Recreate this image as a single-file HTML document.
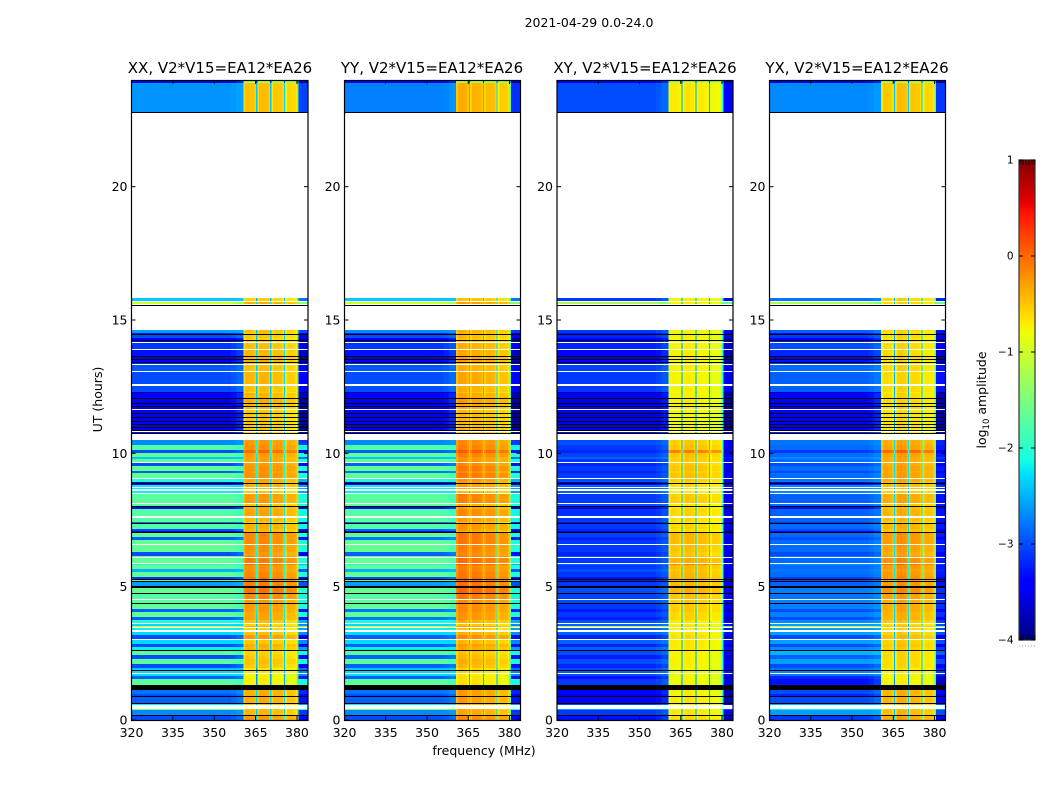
<!DOCTYPE html>
<html lang="en">
<head>
<meta charset="utf-8">
<title>2021-04-29 0.0-24.0</title>
<style>
html,body{margin:0;padding:0;background:#fff;}
svg{display:block;}
text{font-family:"DejaVu Sans","Liberation Sans",sans-serif;fill:#000;}
.title{font-size:15px;text-anchor:middle;}
.tick{font-size:12.5px;}
.lab{font-size:12.5px;text-anchor:middle;}
</style>
</head>
<body>
<svg id="fig" xmlns="http://www.w3.org/2000/svg" width="1050" height="800" viewBox="0 0 1050 800">
  <rect x="0" y="0" width="1050" height="800" fill="#fff"/>
  <text class="lab" x="589" y="27">2021-04-29 0.0-24.0</text>
  <g id="panels"></g>
  <text class="title" x="220" y="73">XX, V2*V15=EA12*EA26</text>
  <text class="title" x="432" y="73">YY, V2*V15=EA12*EA26</text>
  <text class="title" x="645" y="73">XY, V2*V15=EA12*EA26</text>
  <text class="title" x="857" y="73">YX, V2*V15=EA12*EA26</text>
  <text class="lab" x="484" y="755">frequency (MHz)</text>
  <text class="lab" transform="translate(102,399.5) rotate(-90)">UT (hours)</text>
  <g id="cbar"></g>
  <text class="lab" transform="translate(986,400) rotate(-90)">log<tspan font-size="8.5" dy="3">10</tspan><tspan dy="-3"> amplitude</tspan></text>
</svg>
<script>
const N = null;   // no data: flagged integration, left white
const K = -9;     // below floor: drawn black

// Integration blocks from the top of the plot, counted in 0.0375 h bins
const rowBins = [
3,29,1,185,3,1,2,1,1,24,
3,1,1,3,2,1,1,1,6,1,
6,1,2,1,2,1,1,1,6,1,
12,2,6,1,5,1,4,1,2,1,
2,1,3,1,3,1,3,1,2,1,
2,1,2,1,1,1,1,6,5,5,
3,4,2,3,1,3,5,2,5,1,
3,1,1,1,2,1,1,2,2,1,
9,1,2,1,2,7,2,4,1,1,
5,2,1,1,4,3,4,1,7,4,
1,1,5,1,1,4,3,5,2,1,
1,1,4,2,5,1,5,1,3,1,
5,3,5,3,3,1,2,1,1,2,
2,3,4,1,4,3,3,1,4,4,
5,4,2,1,2,1,2,3,6,5,
4,2,1,6,1,1,4,1,5,1,
4];

// log10 amplitude, 320-360 MHz, per block
const xxLow = [
-3.4,-2.65,K,N,-2.4,N,-1.0,N,K,N,
-2.6,-3.2,K,-3.0,-3.5,K,-3.4,N,-3.1,N,
-3.3,K,-3.5,K,-3.4,K,-3.2,N,-2.95,N,
-3.0,N,-3.0,-3.8,-3.4,K,-3.4,K,-3.5,K,
-3.5,N,-3.4,K,-3.5,K,-3.4,K,-3.4,K,
-3.5,K,-3.4,K,N,-3.3,K,N,-2.7,-1.75,
-3.0,-1.65,-2.4,-1.65,N,-3.0,-1.65,-2.9,-1.65,N,
-2.1,-3.4,K,-3.4,-2.2,N,-2.2,N,-2.2,N,
-1.7,N,-1.65,K,-3.3,-1.75,N,-1.75,-2.8,K,
-1.75,-3.0,-3.6,K,-1.65,-2.9,-1.65,N,-1.65,-3.0,
-1.65,N,-1.65,N,-2.1,-1.65,-2.5,-1.65,-3.1,K,
-1.75,K,-2.6,K,-1.65,K,-1.75,N,-1.7,K,
-1.65,-2.9,-1.65,-2.9,-2.1,N,-2.3,-0.9,N,-2.2,
N,-2.3,-3.0,N,-2.3,-3.0,-2.2,K,-1.7,-3.0,
-1.7,-3.0,-2.4,K,-2.3,N,-2.3,-2.9,-1.7,K,
-2.8,-3.0,K,-2.9,K,-2.2,N,-1.5,-2.7,K,
-3.0];
const yyLow = [
-3.4,-2.75,K,N,-2.4,N,-1.0,N,K,N,
-2.7,-3.2,K,-3.0,-3.5,K,-3.4,N,-3.1,N,
-3.3,K,-3.5,K,-3.4,K,-3.2,N,-2.95,N,
-3.0,N,-3.0,-3.8,-3.4,K,-3.4,K,-3.5,K,
-3.5,N,-3.4,K,-3.5,K,-3.4,K,-3.4,K,
-3.5,K,-3.4,K,N,-3.3,K,N,-2.7,-1.75,
-2.9,-1.65,-2.4,-1.65,N,-2.9,-1.65,-2.8,-1.65,N,
-2.1,-3.4,K,-3.4,-2.2,N,-2.2,N,-2.2,N,
-1.7,N,-1.65,K,-3.3,-1.75,N,-1.75,-2.8,K,
-1.75,-2.9,-3.6,K,-1.65,-2.8,-1.65,N,-1.65,-2.9,
-1.65,N,-1.65,N,-2.1,-1.65,-2.5,-1.65,-3.0,K,
-1.75,K,-2.6,K,-1.65,K,-1.75,N,-1.7,K,
-1.65,-2.8,-1.65,-2.8,-2.1,N,-2.3,-0.9,N,-2.2,
N,-2.3,-2.9,N,-2.3,-2.9,-2.2,K,-1.7,-2.9,
-1.7,-2.9,-2.4,K,-2.3,N,-2.3,-2.9,-1.7,K,
-2.8,-3.0,K,-2.9,K,-2.2,N,-1.5,-2.7,K,
-3.0];
const xyLow = [
-3.4,-3.0,K,N,-3.1,N,-1.2,N,K,N,
-3.1,-3.3,K,-3.2,-3.5,K,-3.4,N,-3.2,N,
-3.4,K,-3.5,K,-3.4,K,-3.3,N,-3.05,N,
-3.1,N,-3.1,-3.8,-3.5,K,-3.5,K,-3.55,K,
-3.5,N,-3.5,K,-3.55,K,-3.5,K,-3.5,K,
-3.55,K,-3.5,K,N,-3.3,K,N,-3.0,-3.1,
-3.2,-3.05,-2.9,-3.1,N,-3.2,-3.1,-3.2,-3.1,N,
-3.0,-3.4,K,-3.4,-2.9,N,-2.9,N,-2.9,N,
-3.1,N,-3.0,K,-3.4,-3.15,N,-3.1,-3.3,K,
-3.1,-3.2,-3.6,K,-3.05,-3.2,-3.1,N,-3.1,-3.2,
-3.0,N,-3.1,N,-2.9,-3.1,-3.0,-3.1,-3.3,K,
-3.2,K,-3.1,K,-3.0,K,-3.05,N,-3.0,K,
-3.1,-3.25,-3.1,-3.25,-3.0,N,-2.9,-1.0,N,-2.9,
N,-2.9,-3.2,N,-2.9,-3.2,-2.9,K,-3.0,-3.25,
-3.0,-3.2,-3.0,K,-2.9,N,-3.0,-3.3,-3.1,K,
-3.4,-3.5,K,-3.4,K,-3.0,N,-2.6,-3.1,K,
-3.3];
const yxLow = [
-3.4,-2.7,K,N,-2.8,N,-1.2,N,K,N,
-2.9,-3.3,K,-3.1,-3.4,K,-3.3,N,-3.0,N,
-3.2,K,-3.4,K,-3.3,K,-3.1,N,-2.85,N,
-2.9,N,-2.9,-3.7,-3.4,K,-3.4,K,-3.45,K,
-3.4,N,-3.4,K,-3.45,K,-3.4,K,-3.4,K,
-3.45,K,-3.4,K,N,-3.2,K,N,-2.8,-2.85,
-3.1,-2.85,-2.7,-2.85,N,-3.0,-2.85,-3.0,-2.85,N,
-2.8,-3.3,K,-3.3,-2.7,N,-2.7,N,-2.7,N,
-2.9,N,-2.85,K,-3.3,-2.9,N,-2.9,-3.1,K,
-2.85,-3.0,-3.5,K,-2.85,-3.0,-2.85,N,-2.85,-3.0,
-2.8,N,-2.85,N,-2.7,-2.85,-2.8,-2.85,-3.1,K,
-3.0,K,-2.9,K,-2.75,K,-2.8,N,-2.75,K,
-2.75,-3.0,-2.75,-3.0,-2.7,N,-2.6,-1.0,N,-2.6,
N,-2.6,-3.0,N,-2.6,-3.0,-2.7,K,-2.5,-2.9,
-2.6,-3.0,-2.8,K,-2.7,N,-2.8,-3.2,-3.3,K,
-3.0,-3.2,K,-3.0,K,-2.5,N,-2.2,-2.6,K,
-3.1];

// log10 amplitude, 360-380 MHz, per block
const xxHigh = [
-1.2,-.5,K,N,-.6,N,-.4,N,K,N,
-.5,-.55,K,-.55,-.6,K,-.6,N,-.5,N,
-.45,K,-.45,K,-.4,K,-.5,N,-.5,N,
-.45,N,-.5,-.6,-.45,K,-.4,K,-.45,K,
-.5,N,-.55,K,-.55,K,-.55,K,-.55,K,
-.55,K,-.55,K,N,-.6,K,N,-.3,-.25,
-.05,-.3,-.35,-.35,N,-.3,-.25,-.3,-.25,N,
-.35,-.4,K,-.4,-.4,N,-.5,N,-.55,N,
-.3,N,-.5,K,-.4,-.35,N,-.45,-.6,K,
-.4,-.45,-.5,K,-.2,-.2,-.2,N,-.25,-.3,
-.2,N,-.15,N,-.05,-.25,-.25,-.2,-.15,K,
-.15,K,-.15,K,-.1,K,-.2,N,-.3,K,
-.3,-.3,-.35,-.35,-.5,N,-.6,-.4,N,-.6,
N,-.5,-.3,N,-.55,-.4,-.45,K,-.6,-.55,
-.5,-.55,-.7,K,-.7,N,-.8,-.75,-.75,K,
-.4,-.4,K,-.4,K,-.5,N,-.5,-.45,K,
-.3];
const yyHigh = [
-1.2,-.45,K,N,-.55,N,-.35,N,K,N,
-.45,-.5,K,-.5,-.55,K,-.55,N,-.45,N,
-.4,K,-.4,K,-.35,K,-.45,N,-.45,N,
-.4,N,-.45,-.55,-.4,K,-.35,K,-.4,K,
-.45,N,-.5,K,-.5,K,-.5,K,-.5,K,
-.5,K,-.5,K,N,-.55,K,N,-.25,-.2,
.0,-.2,-.3,-.3,N,-.25,-.15,-.25,-.15,N,
-.3,-.35,K,-.35,-.35,N,-.45,N,-.5,N,
-.2,N,-.45,K,-.35,-.25,N,-.35,-.55,K,
-.3,-.35,-.45,K,-.15,-.15,-.15,N,-.2,-.25,
-.15,N,-.1,N,.0,-.2,-.2,-.15,-.1,K,
-.1,K,-.1,K,-.05,K,-.15,N,-.25,K,
-.25,-.25,-.3,-.3,-.45,N,-.55,-.35,N,-.55,
N,-.45,-.25,N,-.5,-.35,-.4,K,-.55,-.5,
-.45,-.5,-.65,K,-.65,N,-.75,-.7,-.7,K,
-.35,-.35,K,-.35,K,-.45,N,-.45,-.4,K,
-.25];
const xyHigh = [
-1.2,-.75,K,N,-.8,N,-.8,N,K,N,
-.8,-.85,K,-.8,-.85,K,-.85,N,-.8,N,
-.8,K,-.8,K,-.8,K,-.85,N,-.8,N,
-.8,N,-.8,-.9,-.8,K,-.8,K,-.8,K,
-.8,N,-.85,K,-.85,K,-.85,K,-.85,K,
-.85,K,-.85,K,N,-.9,K,N,-.6,-.55,
-.2,-.55,-.6,-.6,N,-.6,-.55,-.6,-.55,N,
-.6,-.7,K,-.7,-.7,N,-.75,N,-.8,N,
-.6,N,-.75,K,-.7,-.65,N,-.7,-.8,K,
-.65,-.7,-.75,K,-.5,-.5,-.5,N,-.55,-.6,
-.5,N,-.45,N,-.2,-.5,-.55,-.5,-.45,K,
-.5,K,-.5,K,-.45,K,-.55,N,-.6,K,
-.6,-.6,-.65,-.65,-.75,N,-.8,-.7,N,-.8,
N,-.75,-.7,N,-.75,-.75,-.75,K,-.8,-.8,
-.8,-.8,-.85,K,-.85,N,-.85,-.85,-.85,K,
-.8,-.8,K,-.75,K,-.8,N,-.8,-.75,K,
-.7];
const yxHigh = [
-1.2,-.6,K,N,-.7,N,-.7,N,K,N,
-.7,-.75,K,-.7,-.75,K,-.75,N,-.7,N,
-.7,K,-.7,K,-.7,K,-.75,N,-.7,N,
-.7,N,-.7,-.8,-.7,K,-.7,K,-.7,K,
-.7,N,-.75,K,-.75,K,-.75,K,-.75,K,
-.75,K,-.75,K,N,-.8,K,N,-.45,-.4,
-.1,-.4,-.45,-.45,N,-.45,-.4,-.45,-.4,N,
-.45,-.55,K,-.55,-.55,N,-.6,N,-.65,N,
-.45,N,-.6,K,-.55,-.5,N,-.55,-.65,K,
-.5,-.55,-.6,K,-.35,-.35,-.35,N,-.4,-.45,
-.35,N,-.3,N,-.1,-.35,-.4,-.35,-.3,K,
-.35,K,-.35,K,-.3,K,-.4,N,-.45,K,
-.45,-.45,-.5,-.5,-.6,N,-.7,-.55,N,-.7,
N,-.65,-.55,N,-.65,-.6,-.65,K,-.7,-.7,
-.7,-.7,-.8,K,-.8,N,-.85,-.85,-.85,K,
-.5,-.5,K,-.5,K,-.6,N,-.6,-.55,K,
-.45];

// Frequency channels (MHz)
const lowEdges = [320,350,356,358,360.6];
const lowLeak = [0,0,.07,.2];
const bandEdges = [360.6,361.2,363,364.6,365.2,365.7,366.3,368.4,369.8,370.3,370.7,371.3,373.4,374.8,375.3,375.7,376.3,378.2,379.4,380,380.5];
const bandGain = [-.12,.05,.02,-.08,-1.9,-.12,.06,.04,-.08,-1.9,-.12,.05,.03,-.08,-1.8,-.15,.02,.0,-.12,-1.2];
const tailEdges = [380.5,384];
const tailGain = [-.4];

// Per-panel level of the four sub-bands at 361-365, 366-370, 371-375, 376-380 MHz
const xxBandLevel = [0,0,-.05,-.1];
const yyBandLevel = [.05,0,-.05,-.1];
const xyBandLevel = [.02,.05,0,-.05];
const yxBandLevel = [.05,.1,.05,0];

// Axis ticks
const freqTicks = [320,335,350,365,380];
const hourTicks = [0,5,10,15,20];
const levelTicks = [1,0,-1,-2,-3,-4];

const panelLow = [xxLow,yyLow,xyLow,yxLow];
const panelHigh = [xxHigh,yyHigh,xyHigh,yxHigh];
const panelBand = [xxBandLevel,yyBandLevel,xyBandLevel,yxBandLevel];
const panelKeys = ['xx','yy','xy','yx'];

const SVGNS = 'http://www.w3.org/2000/svg';
const binHours = 0.0375;
const panelLeft = [131.5,344.5,557,769.5];
const panelWidth = [176.5,176,176,176];
const hourZero = 720, pxPerHour = 640/24;

function yOf(h){ return hourZero - h*pxPerHour; }
function xOf(p,f){ return panelLeft[p] + (f-320)*panelWidth[p]/64; }
function seg(t,pts){
  for(let i=1;i<pts.length;i++){
    if(t<=pts[i][0]){
      const a=pts[i-1],b=pts[i];
      return a[1]+(b[1]-a[1])*(t-a[0])/(b[0]-a[0]);
    }
  }
  return pts[pts.length-1][1];
}
function jet(v){
  if(v<=K) return '#000';
  const t=Math.max(0,Math.min(1,(v+4)/5));
  const r=seg(t,[[0,0],[.35,0],[.66,1],[.89,1],[1,.5]]);
  const g=seg(t,[[0,0],[.125,0],[.375,1],[.64,1],[.91,0],[1,0]]);
  const b=seg(t,[[0,.5],[.11,1],[.34,1],[.65,0],[1,0]]);
  return 'rgb('+Math.round(r*255)+','+Math.round(g*255)+','+Math.round(b*255)+')';
}
function shape(parent,tag,geo){
  const el=document.createElementNS(SVGNS,tag);
  for(const k in geo) el.setAttribute(k,geo[k]);
  parent.appendChild(el);
  return el;
}
function cell(g,p,f0,f1,yTop,yBot,v){
  const el=shape(g,'rect',{x:xOf(p,f0),y:yTop,width:xOf(p,f1)-xOf(p,f0),height:yBot-yTop,fill:jet(v),'shape-rendering':'crispEdges'});
  
  
}

const root=document.getElementById('panels');
panelKeys.forEach(function(key,p){
  const g=shape(root,'g',{});
  
  
  const low=panelLow[p], high=panelHigh[p], band=panelBand[p];
  let hour=24;
  rowBins.forEach(function(n,r){
    const hourEnd=hour-n*binHours;
    const yTop=yOf(hour), yBot=yOf(hourEnd);
    hour=hourEnd;
    const lv=low[r], hv=high[r];
    if(lv===N) return;
    if(lv===K){ cell(g,p,320,384,yTop,yBot,K); return; }
    lowLeak.forEach(function(w,c){
      cell(g,p,lowEdges[c],lowEdges[c+1],yTop,yBot,lv+(-2.3-lv)*w);
    });
    bandGain.forEach(function(d,c){
      cell(g,p,bandEdges[c],bandEdges[c+1],yTop,yBot,hv+d+band[Math.floor(c/5)]);
    });
    tailGain.forEach(function(d,c){
      cell(g,p,tailEdges[c],tailEdges[c+1],yTop,yBot,lv+d);
    });
  });
  const L=panelLeft[p], R=L+panelWidth[p], T=yOf(24), B=yOf(0);
  const frame=shape(g,'rect',{x:L,y:T+.5,width:panelWidth[p],height:B-T,fill:'none',stroke:'#000','stroke-width':1.2});
  
  
  freqTicks.forEach(function(f){
    const x=xOf(p,f);
    const t1=shape(g,'line',{x1:x,x2:x,y1:B,y2:B-4,stroke:'#000','stroke-width':1});
    
    
    const t2=shape(g,'line',{x1:x,x2:x,y1:T,y2:T+4,stroke:'#000','stroke-width':1});
    
    
    const tx=shape(g,'text',{x:x,y:B+17,'text-anchor':'middle','class':'tick'});
    
    
    tx.textContent=String(f);
  });
  hourTicks.forEach(function(h){
    const y=yOf(h);
    const t1=shape(g,'line',{x1:L,x2:L+4,y1:y,y2:y,stroke:'#000','stroke-width':1});
    
    
    const t2=shape(g,'line',{x1:R,x2:R-4,y1:y,y2:y,stroke:'#000','stroke-width':1});
    
    
    const tx=shape(g,'text',{x:L-4,y:y+4.5,'text-anchor':'end','class':'tick'});
    
    
    tx.textContent=String(h);
  });
});

// Colorbar
const cb=document.getElementById('cbar');
const cbL=1019, cbR=1035;
function yLevel(v){ return 640-(v+4)*96; }
for(let px=160;px<640;px+=2){
  const v=1-(px-160+1)/96;
  const el=shape(cb,'rect',{x:cbL,y:px,width:cbR-cbL,height:2,fill:jet(v),'shape-rendering':'crispEdges'});
  
  
}
const cbFrame=shape(cb,'rect',{x:cbL,y:160,width:cbR-cbL,height:480,fill:'none',stroke:'#333','stroke-width':1.2});


levelTicks.forEach(function(v){
  const y=yLevel(v);
  const a=shape(cb,'line',{x1:cbL,x2:cbL+4,y1:y,y2:y,stroke:'#000','stroke-width':1});
  
  
  const b=shape(cb,'line',{x1:cbR,x2:cbR-4,y1:y,y2:y,stroke:'#000','stroke-width':1});
  
  
  const tx=shape(cb,'text',{x:1013.5,y:y+3.5,'text-anchor':'end','font-size':'10.5'});
  
  
  tx.textContent=v<0?'\u2212'+Math.abs(v):String(v);
});
for(let i=0;i<6;i++){
  const x=cbL+1+i*3;
  const a=shape(cb,'line',{x1:x,x2:x,y1:160,y2:165,stroke:'#000','stroke-width':.8});
  
  
  const b=shape(cb,'line',{x1:x,x2:x,y1:640,y2:635,stroke:'#000','stroke-width':.8});
  
  
  const d=shape(cb,'rect',{x:x-1,y:645.5,width:1,height:1,fill:'#999'});
  
  
}
</script>
</body>
</html>
